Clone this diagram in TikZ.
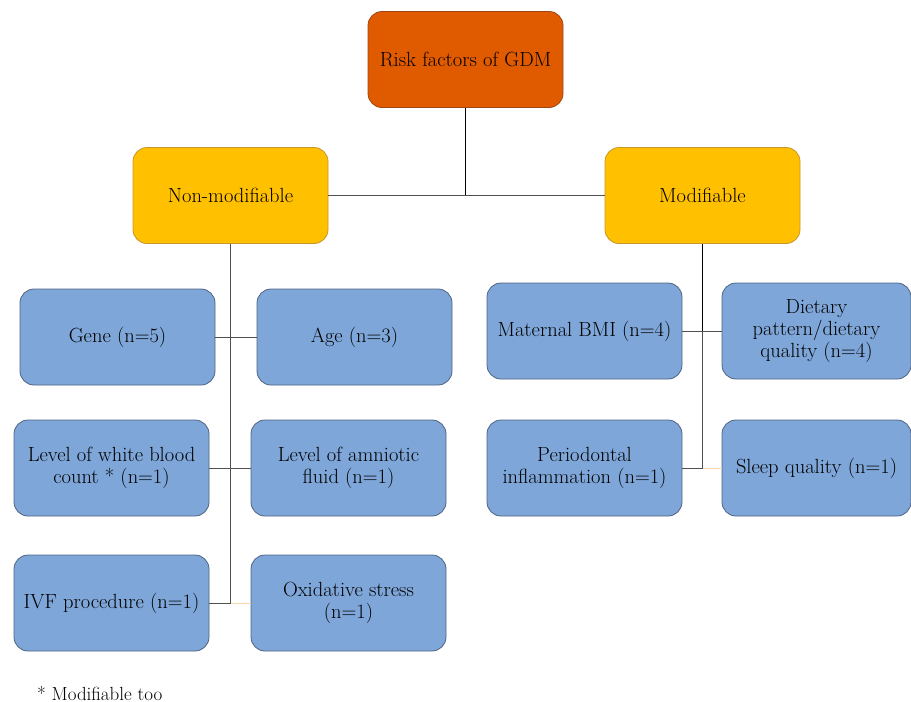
\documentclass[tikz,border=0pt]{standalone}
\definecolor{toporange}{RGB}{224,90,0}
\definecolor{toporangeline}{RGB}{160,70,20}
\definecolor{gold}{RGB}{255,192,0}
\definecolor{goldline}{RGB}{200,150,40}
\definecolor{leafblue}{RGB}{126,166,216}
\definecolor{leafline}{RGB}{80,100,130}
\definecolor{connline}{RGB}{80,80,80}
\definecolor{faintline}{RGB}{250,215,170}
\begin{document}
\begin{tikzpicture}[x=1pt,y=-1pt,
  box/.style={draw, rounded corners=14pt, line width=0.8pt, minimum width=195pt,
    minimum height=96pt, align=center, inner sep=1pt,
    font=\fontsize{20.5}{22}\selectfont},
  topbox/.style={box, fill=toporange, draw=toporangeline},
  midbox/.style={box, fill=gold, draw=goldline},
  leafbox/.style={box, fill=leafblue, draw=leafline},
  conn/.style={draw=connline, line width=1pt},
  thinconn/.style={draw=black, line width=0.9pt},
  faint/.style={draw=faintline, line width=1pt}]
\useasboundingbox (0,0) rectangle (911,702);

\node[topbox] (top) at (465.5,59.5) {Risk factors of GDM};
\node[midbox] (nm) at (230.5,195.5) {Non-modifiable};
\node[midbox] (mod) at (702.5,195.5) {Modifiable};

\node[leafbox] (gene) at (117.5,337) {Gene (n=5)};
\node[leafbox] (age) at (354.5,337) {Age (n=3)};
\node[leafbox] (wbc) at (111.5,468) {Level of white blood\\count * (n=1)};
\node[leafbox] (amn) at (348.5,468) {Level of amniotic\\fluid (n=1)};
\node[leafbox] (ivf) at (111.5,603) {IVF procedure (n=1)};
\node[leafbox] (ox) at (348.5,603) {Oxidative stress\\(n=1)};

\node[leafbox] (bmi) at (584.5,331) {Maternal BMI (n=4)};
\node[leafbox, minimum width=189pt] (diet) at (816.5,331) {Dietary\\pattern/dietary\\quality (n=4)};
\node[leafbox] (peri) at (584.5,468) {Periodontal\\inflammation (n=1)};
\node[leafbox, minimum width=189pt] (sleep) at (816.5,468) {Sleep quality (n=1)};

\node[anchor=west, font=\fontsize{19}{21}\selectfont, inner sep=0pt] (note) at (37,693) {* Modifiable too};

% connectors
\coordinate (j1) at (top.south |- nm.east);
\draw[thinconn] (top.south) -- (j1);
\draw[conn] (nm.east) -- (mod.west);

\coordinate (nmb) at (nm.south |- ivf.east);
\draw[conn] (nm.south) -- (nmb) -- (ivf.east);
\draw[conn] (gene.east) -- (age.west);
\draw[conn] (wbc.east) -- (amn.west);
\draw[faint] (nmb) -- (ox.west);

\coordinate (mb) at (mod.south |- peri.east);
\coordinate (mb1) at (mod.south |- bmi.east);
\draw[thinconn] (mod.south) -- (mb1);
\draw[conn] (mb1) -- (mb) -- (peri.east);
\draw[conn] (bmi.east) -- (diet.west);
\draw[faint] (mb) -- (sleep.west);
\end{tikzpicture}
\end{document}
